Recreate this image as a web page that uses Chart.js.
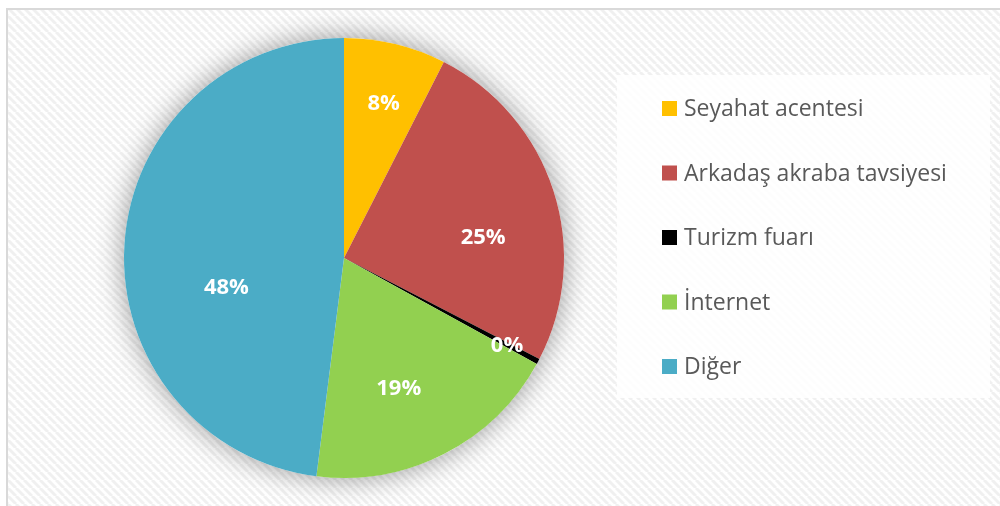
<!DOCTYPE html>
<html>
<head>
<meta charset="utf-8">
<script src="https://cdn.jsdelivr.net/npm/chart.js@4/dist/chart.umd.min.js"></script>
<style>
html,body{margin:0;padding:0;background:#fff;}
#c{display:block;}
</style>
</head>
<body>
<canvas id="c" width="1000" height="506"></canvas>
<script>
const categories = ['Seyahat acentesi', 'Arkadaş akraba tavsiyesi', 'Turizm fuarı', 'İnternet', 'Diğer'];
const values = [7.5, 25.1, 0.4, 19.0, 48.0];
const sliceColors = ['#FFC000', '#C0504D', '#000000', '#92D050', '#4BACC6'];

// label placement: fraction along the slice angle, fraction of radius
const labelT = [0.53, 0.6, 0.5, 0.56, 0.40];
const labelR = [0.73, 0.64, 0.84, 0.64, 0.55];

function makePattern(ctx) {
  const t = document.createElement('canvas');
  t.width = 8; t.height = 8;
  const g = t.getContext('2d');
  g.fillStyle = '#ffffff';
  g.fillRect(0, 0, 8, 8);
  g.strokeStyle = '#f0f0f0';
  g.lineWidth = 3;
  for (const o of [-8, 0, 8]) {
    g.beginPath();
    g.moveTo(o, 0);
    g.lineTo(o + 8, 8);
    g.stroke();
  }
  return ctx.createPattern(t, 'repeat');
}

const bgPlugin = {
  id: 'bg',
  beforeDraw(chart) {
    const ctx = chart.ctx;
    ctx.save();
    ctx.fillStyle = '#ffffff';
    ctx.fillRect(0, 0, chart.width, chart.height);
    ctx.fillStyle = makePattern(ctx);
    ctx.fillRect(7, 9, chart.width, chart.height);
    ctx.strokeStyle = '#d9d9d9';
    ctx.lineWidth = 2;
    ctx.strokeRect(7, 9, chart.width + 10, chart.height + 10);
    // legend box
    ctx.fillStyle = 'rgba(255,255,255,0.85)';
    ctx.fillRect(617, 75, 373, 323);
    // legend items
    ctx.font = '23px "Open Sans"';
    ctx.textBaseline = 'middle';
    ctx.textAlign = 'left';
    chart.data.labels.forEach((lab, i) => {
      const yc = 108.5 + i * 64.5;
      ctx.fillStyle = chart.data.datasets[0].backgroundColor[i];
      ctx.fillRect(662, yc - 7.5, 15, 15);
      ctx.fillStyle = '#595959';
      ctx.fillText(lab, 684, yc + 1);
    });
    ctx.restore();
  },
  beforeDatasetsDraw(chart) {
    const meta = chart.getDatasetMeta(0);
    const a = meta.data[0];
    if (!a) return;
    const ctx = chart.ctx;
    ctx.save();
    ctx.shadowColor = 'rgba(0,0,0,0.4)';
    ctx.shadowBlur = 28;
    ctx.fillStyle = '#ffffff';
    ctx.beginPath();
    ctx.arc(a.x, a.y, a.outerRadius, 0, Math.PI * 2);
    ctx.fill();
    ctx.restore();
  },
  afterDatasetsDraw(chart) {
    const meta = chart.getDatasetMeta(0);
    const ctx = chart.ctx;
    const data = chart.data.datasets[0].data;
    ctx.save();
    ctx.font = 'bold 22px "Open Sans"';
    ctx.fillStyle = '#ffffff';
    ctx.textAlign = 'center';
    ctx.textBaseline = 'middle';
    meta.data.forEach((arc, i) => {
      const p = arc.getProps(['x', 'y', 'startAngle', 'endAngle', 'outerRadius'], true);
      const ang = p.startAngle + (p.endAngle - p.startAngle) * labelT[i];
      const r = p.outerRadius * labelR[i];
      ctx.fillText(Math.round(data[i]) + '%', p.x + Math.cos(ang) * r, p.y + Math.sin(ang) * r + 1);
    });
    ctx.restore();
  }
};

new Chart(document.getElementById('c'), {
  type: 'pie',
  data: {
    labels: categories,
    datasets: [{
      data: values,
      backgroundColor: sliceColors,
      borderWidth: 0
    }]
  },
  options: {
    responsive: false,
    animation: false,
    layout: { padding: { left: 124, right: 436, top: 38, bottom: 28 } },
    plugins: {
      legend: { display: false },
      tooltip: { enabled: false }
    }
  },
  plugins: [bgPlugin]
});
</script>
</body>
</html>
